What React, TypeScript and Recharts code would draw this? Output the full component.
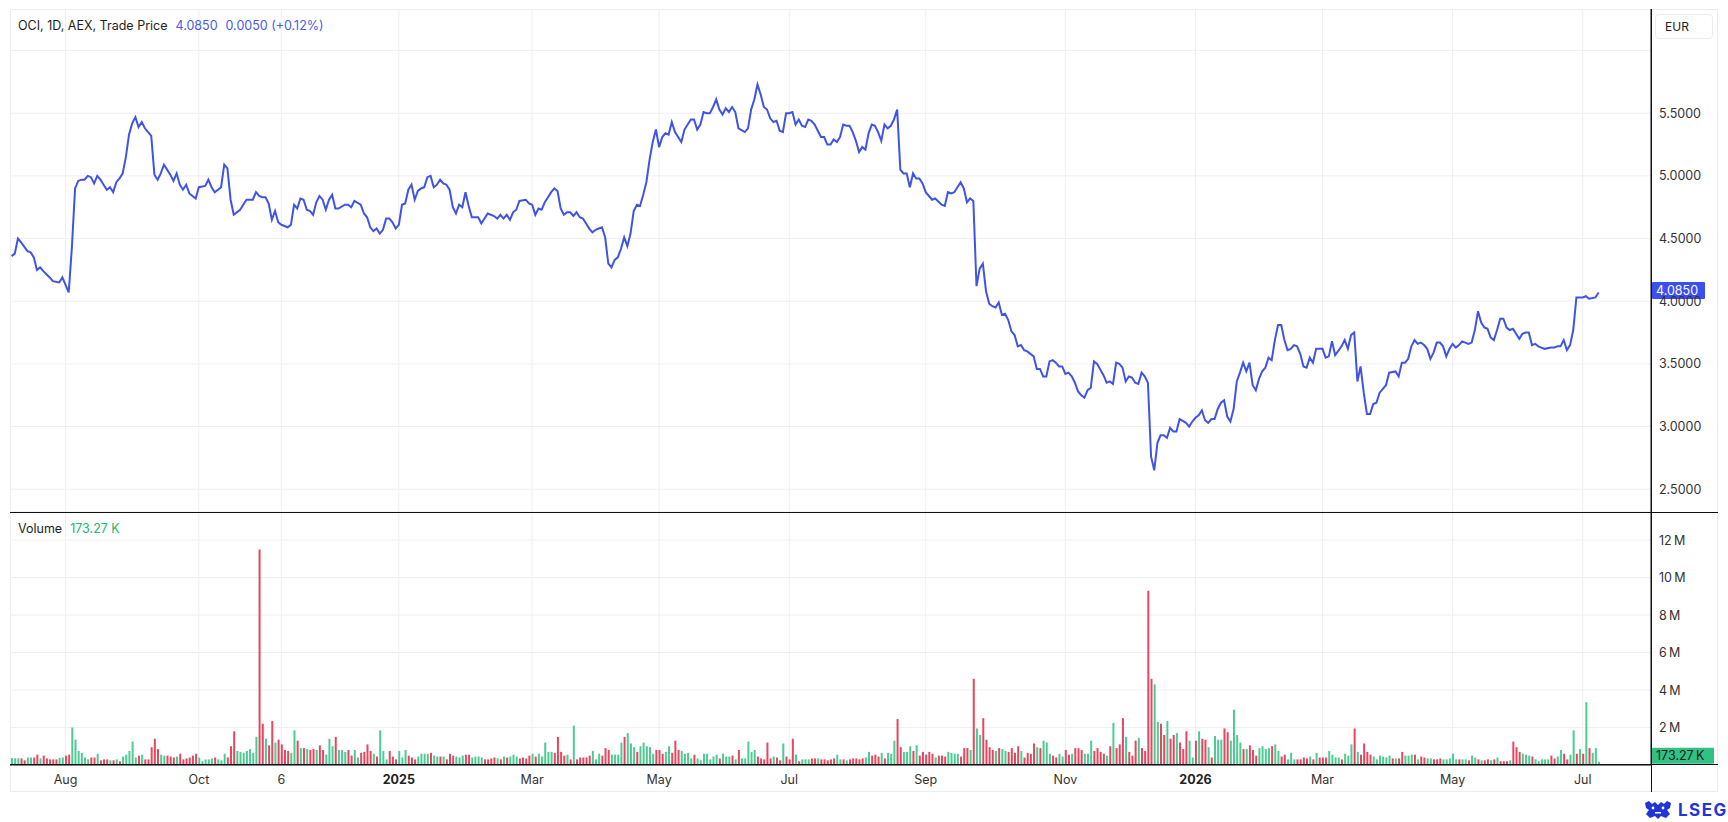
import React from 'react';
import { LineChart, Line, XAxis, YAxis, CartesianGrid, BarChart, Bar, Cell, ReferenceLine } from 'recharts';

// ---------- DATA ----------
// x = trading-day index (0 = first session shown)
const tickDays = [17, 59, 85, 122, 164, 204, 245, 288, 332, 373, 413, 454, 495];
const tickLabels = ['Aug', 'Oct', '6', '2025', 'Mar', 'May', 'Jul', 'Sep', 'Nov', '2026', 'Mar', 'May', 'Jul'];
const boldLabels = ['2025', '2026'];

const priceTicks = [2.5, 3, 3.5, 4, 4.5, 5, 5.5, 6];
const volumeTicks = [2, 4, 6, 8, 10, 12];

const priceDays = [
  0, 1, 2, 3, 5, 6, 7, 8, 9, 10, 12, 13, 15, 16, 17, 18, 19, 20, 21, 22, 23, 24, 25, 26, 27, 28, 29, 30,
  31, 32, 33, 34, 35, 36, 37, 38, 39, 40, 41, 42, 43, 44, 45, 46, 47, 48, 49, 50, 51, 52, 53, 54, 55, 56,
  57, 58, 59, 61, 62, 63, 64, 66, 67, 68, 69, 70, 72, 73, 74, 76, 77, 78, 79, 80, 81, 82, 83, 84, 85, 87,
  88, 89, 90, 91, 92, 93, 94, 95, 96, 97, 98, 99, 100, 101, 102, 103, 105, 106, 107, 108, 110, 111, 112,
  113, 114, 115, 116, 117, 118, 119, 120, 121, 122, 123, 124, 125, 126, 127, 128, 129, 130, 131, 132, 133,
  134, 135, 136, 137, 138, 139, 140, 141, 142, 143, 144, 145, 147, 148, 150, 152, 153, 154, 155, 156, 157,
  158, 159, 160, 162, 163, 164, 165, 166, 167, 168, 169, 170, 171, 172, 173, 174, 175, 176, 177, 178, 179,
  180, 181, 182, 183, 184, 185, 186, 187, 188, 189, 190, 191, 192, 193, 194, 195, 196, 197, 198, 199, 200,
  201, 202, 203, 204, 205, 206, 207, 208, 209, 211, 212, 213, 214, 215, 216, 217, 218, 219, 220, 221, 222,
  223, 224, 225, 226, 227, 228, 229, 231, 232, 233, 234, 235, 236, 237, 238, 239, 240, 241, 242, 243, 244,
  245, 246, 247, 248, 249, 250, 251, 252, 253, 254, 255, 256, 257, 258, 259, 260, 261, 262, 263, 264, 265,
  266, 267, 268, 269, 270, 271, 272, 273, 274, 275, 276, 277, 278, 279, 280, 281, 282, 283, 284, 285, 286,
  287, 288, 290, 291, 293, 294, 295, 296, 297, 298, 299, 300, 301, 302, 303, 304, 305, 306, 307, 308, 309,
  310, 311, 312, 313, 314, 315, 316, 317, 318, 319, 320, 322, 323, 324, 325, 326, 327, 328, 329, 330, 331,
  332, 333, 334, 335, 336, 337, 338, 339, 340, 341, 342, 344, 345, 346, 347, 348, 349, 350, 351, 352, 353,
  354, 355, 356, 357, 358, 359, 360, 361, 362, 363, 364, 365, 366, 367, 368, 370, 371, 372, 373, 374, 375,
  376, 377, 378, 379, 380, 381, 382, 383, 384, 385, 386, 387, 388, 389, 390, 391, 392, 393, 394, 395, 396,
  397, 398, 399, 400, 401, 402, 403, 404, 405, 406, 407, 408, 409, 410, 411, 412, 413, 414, 415, 416, 417,
  419, 420, 421, 422, 423, 424, 425, 426, 427, 428, 429, 430, 431, 433, 434, 436, 437, 438, 439, 440, 441,
  442, 443, 444, 445, 446, 447, 448, 449, 450, 451, 452, 453, 454, 455, 456, 457, 459, 460, 461, 462, 463,
  464, 465, 466, 467, 468, 469, 470, 471, 472, 473, 474, 475, 476, 477, 478, 479, 480, 481, 483, 485, 486,
  487, 488, 489, 490, 491, 492, 493, 494, 495, 496, 497, 499, 500,
];

const priceValues = [
  4.36, 4.38, 4.5, 4.47, 4.4, 4.39, 4.35, 4.25, 4.27, 4.24, 4.19, 4.16, 4.15, 4.19, 4.13, 4.07, 4.43, 4.9,
  4.96, 4.97, 4.97, 5.0, 4.99, 4.94, 5.0, 4.97, 4.93, 4.89, 4.91, 4.87, 4.95, 4.98, 5.02, 5.15, 5.33, 5.42,
  5.47, 5.39, 5.43, 5.38, 5.35, 5.32, 5.01, 4.97, 5.02, 5.09, 5.05, 5.01, 4.96, 5.02, 4.93, 4.89, 4.93, 4.86,
  4.84, 4.82, 4.91, 4.92, 4.97, 4.91, 4.87, 4.91, 5.09, 5.06, 4.81, 4.69, 4.73, 4.77, 4.81, 4.81, 4.87, 4.84,
  4.83, 4.83, 4.78, 4.65, 4.72, 4.63, 4.61, 4.59, 4.61, 4.77, 4.74, 4.82, 4.81, 4.73, 4.72, 4.69, 4.79, 4.84,
  4.81, 4.73, 4.81, 4.85, 4.74, 4.74, 4.77, 4.77, 4.75, 4.8, 4.77, 4.7, 4.67, 4.59, 4.56, 4.58, 4.54, 4.57,
  4.66, 4.66, 4.63, 4.58, 4.61, 4.77, 4.78, 4.89, 4.93, 4.81, 4.88, 4.9, 4.91, 4.99, 5.0, 4.91, 4.93, 4.97,
  4.94, 4.93, 4.89, 4.75, 4.7, 4.77, 4.75, 4.87, 4.76, 4.67, 4.67, 4.62, 4.7, 4.68, 4.66, 4.69, 4.66, 4.69,
  4.65, 4.71, 4.73, 4.8, 4.81, 4.78, 4.77, 4.69, 4.74, 4.73, 4.79, 4.83, 4.87, 4.9, 4.88, 4.74, 4.69, 4.71,
  4.71, 4.68, 4.71, 4.67, 4.66, 4.62, 4.58, 4.55, 4.57, 4.58, 4.59, 4.51, 4.3, 4.27, 4.33, 4.35, 4.42, 4.51,
  4.44, 4.54, 4.72, 4.77, 4.76, 4.85, 4.95, 5.13, 5.27, 5.37, 5.23, 5.31, 5.34, 5.33, 5.43, 5.35, 5.27, 5.37,
  5.41, 5.45, 5.45, 5.37, 5.41, 5.51, 5.5, 5.5, 5.55, 5.61, 5.53, 5.49, 5.54, 5.51, 5.55, 5.51, 5.38, 5.35,
  5.38, 5.53, 5.61, 5.73, 5.65, 5.55, 5.53, 5.46, 5.43, 5.44, 5.36, 5.35, 5.5, 5.5, 5.51, 5.41, 5.45, 5.4,
  5.39, 5.45, 5.44, 5.41, 5.36, 5.31, 5.31, 5.25, 5.25, 5.29, 5.27, 5.31, 5.41, 5.4, 5.4, 5.35, 5.28, 5.19,
  5.23, 5.21, 5.34, 5.41, 5.4, 5.35, 5.28, 5.41, 5.38, 5.4, 5.45, 5.53, 5.05, 5.02, 5.02, 4.91, 5.02, 4.98,
  4.98, 4.94, 4.87, 4.81, 4.82, 4.77, 4.76, 4.87, 4.86, 4.87, 4.91, 4.95, 4.9, 4.79, 4.82, 4.8, 4.12, 4.26,
  4.3, 4.08, 3.98, 3.96, 3.95, 3.99, 3.89, 3.9, 3.85, 3.76, 3.73, 3.64, 3.65, 3.61, 3.6, 3.56, 3.46, 3.46,
  3.4, 3.4, 3.52, 3.53, 3.51, 3.48, 3.48, 3.42, 3.43, 3.4, 3.35, 3.28, 3.25, 3.23, 3.29, 3.31, 3.52, 3.5,
  3.41, 3.35, 3.36, 3.34, 3.51, 3.5, 3.47, 3.36, 3.4, 3.39, 3.35, 3.34, 3.43, 3.4, 3.35, 2.76, 2.65, 2.87,
  2.93, 2.93, 2.91, 2.99, 2.96, 2.96, 3.06, 3.03, 3.0, 3.04, 3.07, 3.09, 3.13, 3.05, 3.03, 3.06, 3.06, 3.14,
  3.19, 3.21, 3.08, 3.04, 3.14, 3.36, 3.43, 3.51, 3.44, 3.51, 3.33, 3.29, 3.38, 3.44, 3.47, 3.55, 3.53, 3.69,
  3.81, 3.81, 3.69, 3.61, 3.62, 3.65, 3.64, 3.58, 3.48, 3.47, 3.55, 3.51, 3.62, 3.62, 3.62, 3.55, 3.56, 3.68,
  3.57, 3.64, 3.69, 3.62, 3.73, 3.75, 3.36, 3.48, 3.27, 3.1, 3.1, 3.18, 3.19, 3.27, 3.33, 3.43, 3.44, 3.4,
  3.51, 3.51, 3.54, 3.64, 3.69, 3.66, 3.67, 3.65, 3.62, 3.54, 3.59, 3.67, 3.67, 3.64, 3.56, 3.62, 3.66, 3.63,
  3.65, 3.68, 3.66, 3.67, 3.77, 3.92, 3.83, 3.79, 3.78, 3.71, 3.69, 3.77, 3.86, 3.86, 3.79, 3.77, 3.78, 3.74,
  3.7, 3.74, 3.75, 3.75, 3.65, 3.66, 3.64, 3.62, 3.63, 3.63, 3.64, 3.64, 3.69, 3.61, 3.65, 3.77, 4.03, 4.03,
  4.03, 4.04, 4.02, 4.03, 4.07, 4.085,
];

// volume in millions, one bar per trading day (0..500)
const volumeValues = [
  0.38, 0.36, 0.36, 0.35, 0.25, 0.4, 0.4, 0.4, 0.55, 0.35,
  0.5, 0.35, 0.3, 0.3, 0.3, 0.38, 0.4, 0.5, 0.55, 2.0,
  1.35, 0.75, 0.65, 0.4, 0.3, 0.4, 0.4, 0.6, 0.25, 0.3,
  0.3, 0.25, 0.25, 0.3, 0.2, 0.45, 0.55, 0.75, 1.25, 0.4,
  0.5, 0.55, 0.3, 0.3, 0.95, 1.4, 0.85, 0.55, 0.5, 0.5,
  0.45, 0.4, 0.45, 0.6, 0.3, 0.35, 0.4, 0.5, 0.6, 0.4,
  0.2, 0.3, 0.3, 0.35, 0.4, 0.3, 0.25, 0.6, 0.4, 1.0,
  1.8, 0.75, 0.7, 0.65, 0.75, 0.85, 0.65, 1.5, 11.5, 2.2,
  1.4, 1.05, 2.35, 1.2, 1.35, 1.1, 0.8, 0.75, 0.65, 1.85,
  1.3, 0.9, 0.9, 0.85, 0.8, 0.85, 0.8, 1.05, 0.8, 0.55,
  1.4, 1.0, 1.5, 0.8, 0.8, 0.7, 0.8, 0.5, 0.8, 0.4,
  0.65, 0.7, 1.1, 0.75, 0.6, 0.45, 1.85, 0.75, 0.3, 0.75,
  0.45, 0.3, 0.75, 0.4, 0.8, 0.5, 0.4, 0.3, 0.45,
  0.6, 0.6, 0.6, 0.65, 0.5, 0.45, 0.45, 0.45, 0.3, 0.6,
  0.5, 0.45, 0.4, 0.5, 0.55, 0.55, 0.4, 0.45, 0.45, 0.4,
  0.3, 0.3, 0.35, 0.4, 0.35, 0.3, 0.45, 0.4, 0.45, 0.55,
  0.45, 0.35, 0.4, 0.35, 0.5, 0.6, 0.45, 0.6, 0.45, 1.2,
  0.7, 0.7, 0.65, 1.5, 0.7, 0.5, 0.55, 0.3, 2.1, 0.3,
  0.4, 0.4, 0.4, 0.5, 0.75, 0.3, 0.6, 0.5, 0.9, 0.8,
  0.55, 0.55, 0.55, 1.2, 1.5, 1.7, 1.15, 0.95, 0.7, 1.0,
  1.2, 1.0, 0.95, 0.6, 0.8, 0.8, 0.6, 0.7, 1.0, 0.65,
  1.3, 0.8, 0.75, 0.6, 0.65, 0.35, 0.55, 0.35, 0.25, 0.6,
  0.6, 0.3, 0.45, 0.55, 0.35, 0.6, 0.45, 0.45, 0.5, 0.3,
  0.8, 0.35, 0.35, 1.25, 0.7, 0.8, 0.45, 0.35, 0.3, 1.2,
  0.35, 0.45, 0.4, 0.25, 1.15, 0.45, 0.3, 1.4, 0.55, 0.2,
  0.3, 0.3, 0.3, 0.35, 0.35, 0.35, 0.3, 0.3, 0.25, 0.3,
  0.35, 0.55,
  0.3, 0.3, 0.25, 0.3, 0.35, 0.35, 0.3, 0.35, 0.4, 0.7,
  0.5, 0.55, 0.45, 0.65, 0.35, 0.65, 0.6, 1.3, 2.45, 0.95,
  0.7, 0.7, 1.0, 0.75, 1.05, 0.5, 0.7, 0.55, 0.7, 0.6,
  0.4, 0.5, 0.5, 0.45, 0.7, 0.65, 0.6, 0.6, 0.45, 0.9,
  0.9, 0.8, 4.6, 1.95, 1.6, 2.5, 1.35, 0.95, 0.8, 0.75,
  0.9, 0.85, 0.75, 0.7, 0.9, 0.65, 1.0, 0.75, 0.4, 0.65,
  0.6, 1.15, 0.95, 0.9, 1.3, 1.2, 0.6, 0.5, 0.4, 0.6,
  0.45, 0.8, 0.55, 0.6, 0.9, 0.9, 0.8, 0.6, 0.6, 1.3,
  0.75, 0.9, 0.7, 0.6, 0.5, 1.0, 2.25, 0.9, 1.1, 2.5,
  1.5, 0.7, 0.5, 1.3, 1.45, 0.9, 0.75, 9.3, 4.6, 4.3,
  2.3, 2.2, 1.6, 2.35, 1.4, 1.6, 1.7, 1.2, 0.85, 1.8,
  1.3, 0.4, 1.3, 1.8, 1.4, 1.35, 0.95, 0.4, 1.55, 1.35,
  1.35, 1.95, 1.75, 1.3, 2.95, 1.6, 1.2, 0.85, 0.85, 1.05,
  0.8, 0.5, 0.9,
  1.0, 0.85, 0.9, 1.0, 1.1, 0.75, 0.45, 0.55, 0.3, 0.65,
  0.3, 0.3, 0.3, 0.4, 0.35, 0.45, 0.3, 0.65, 0.4, 0.4,
  0.4, 0.75, 0.55, 0.4, 0.4, 0.3, 0.6, 0.5, 1.1, 1.95,
  0.7, 0.55, 1.15, 0.7, 0.55, 0.45, 0.3, 0.5, 0.45, 0.4,
  0.5, 0.35, 0.35, 0.35, 0.7, 0.5, 0.5, 0.55, 0.55, 0.3,
  0.45, 0.4, 0.35, 0.35, 0.3, 0.3, 0.35, 0.3, 0.3, 0.35,
  0.6, 0.3, 0.3, 0.3, 0.3, 0.25, 0.5, 0.4, 0.3, 0.25,
  0.25, 0.3, 0.25, 0.3, 0.4, 0.2, 0.2, 0.2, 0.25, 1.25,
  0.95, 0.7, 0.6, 0.55, 0.5, 0.45, 0.3, 0.2, 0.3, 0.3,
  0.3, 0.5, 0.35, 0.45, 0.8, 0.6, 0.3, 0.55, 1.85, 0.6,
  0.85, 0.6, 3.35, 0.9, 0.65, 0.9, 0.17327,
];

// g = up day, r = down day (one letter per bar)
const volumeColors = [
  'gggrrggrrg', 'rrrrrggrrg', 'gggggrrgrr', 'rgrgrggggg', 'rgrrrrrggr', 'rrgrrrrrrg', 'ggggrgggrr',
  'rgggggggrr', 'grrgrrrrgg', 'rgrgrrgrrg', 'ggrgggrrgg', 'rrrrgrgggr', 'rrgggrrrg',
  'gggrggrgrr', 'rgggrrgggg', 'rrrrgrgrgg', 'grrrrgrggg', 'ggrrrrgrgr', 'rrrrgggrrr', 'ggggrgggrg',
  'ggggrrrggr', 'rrggggrggg', 'ggggrgggrg', 'rgggggrrrr', 'rgrrgrrrgr', 'gggrrgrrrr', 'rg',
  'grgrrrrrgg', 'rrrgrgggrr', 'gggrgrrrrr', 'grrrggggrr', 'rgrggrrrrg', 'rggrrrrgrr', 'rrgrgggrrg',
  'grrgrrrggg', 'rrrrgrgrrr', 'grrrgrrrrg', 'grrgrrgrrr', 'ggrgrrgrgg', 'grrggggrgr', 'rrg',
  'gggrggrrgg', 'grrrrgrgrr', 'rggggrgggr', 'grrrrggggg', 'grgrrgggrg', 'rrggrrrggg', 'ggrggrggrg',
  'rrgrgrrrgr', 'rrgggrgggg', 'grrggrrggr', 'grgrggg',
].join('');

// ---------- STYLE ----------
const FONT = 'Inter, "Noto Sans", "DejaVu Sans", sans-serif';
const GRID = '#efefef';
const LINE_BLUE = '#3f54e6';
const UP = '#4ccb93';
const DOWN = '#e5475f';

const PLOT_W = 1641; // plot width (left border to axis line)
const AXIS_W = 67;
const PRICE_H = 503;
const VOL_H = 280;
const XAXIS_H = 27;

const priceData = priceDays.map((d, i) => ({ d, p: priceValues[i] }));
const volumeData = volumeValues.map((v, i) => ({ d: i, v }));
const lastPrice = priceValues[priceValues.length - 1];
const lastVolume = volumeValues[volumeValues.length - 1];

const PriceTick = (props: any) => {
  const { x, y, payload } = props;
  if (payload.value === 6) return <g />;
  return (
    <text x={x + 8} y={y} dy={4.5} textAnchor="start" fill="#333" fontSize={12.5} fontFamily={FONT}>
      {payload.value.toFixed(4)}
    </text>
  );
};

const VolumeTick = (props: any) => {
  const { x, y, payload } = props;
  return (
    <text x={x + 8} y={y} dy={4.5} textAnchor="start" fill="#333" fontSize={12.5} fontFamily={FONT}>
      {`${payload.value}\u2009M`}
    </text>
  );
};

const DateTick = (props: any) => {
  const { x, y, payload } = props;
  const idx = tickDays.indexOf(payload.value);
  const label = tickLabels[idx] ?? '';
  const bold = boldLabels.includes(label);
  return (
    <text x={x} y={y} dy={18.5} textAnchor="middle" fill={bold ? '#222' : '#333'} fontSize={12.5}
      fontWeight={bold ? 700 : 400} fontFamily={FONT}>
      {label}
    </text>
  );
};

const PriceTag = (props: any) => {
  const vb = props.viewBox || {};
  const x = (vb.x ?? 0) + (vb.width ?? 0) + 1;
  const y = vb.y ?? 0;
  return (
    <g>
      <rect x={x} y={y - 8.5} width={53} height={17} fill="#3a4ef4" rx={1} />
      <text x={x + 4} y={y} dy={4.5} fill="#fff" fontSize={12.5} fontFamily={FONT}>
        {lastPrice.toFixed(4)}
      </text>
    </g>
  );
};

const VolumeTag = (props: any) => {
  const vb = props.viewBox || {};
  const x = (vb.x ?? 0) + (vb.width ?? 0) + 1;
  const y = vb.y ?? 0;
  return (
    <g>
      <rect x={x} y={y - 14} width={62} height={16} fill="#30c185" rx={1} />
      <text x={x + 4} y={y - 6} dy={4.5} fill="#1a1a1a" fontSize={12.5} fontFamily={FONT}>
        {`${(lastVolume * 1000).toFixed(2)}\u2009K`}
      </text>
    </g>
  );
};

const line = (style: React.CSSProperties) => <div style={{ position: 'absolute', ...style }} />;

export default function App() {
  return (
    <div style={{ position: 'absolute', left: 0, top: 0, width: 1728, height: 822, background: '#fff', fontFamily: FONT, overflow: 'hidden' }}>
      {/* outer light frame */}
      {line({ left: 10, top: 9, width: 1708, height: 783, border: '1px solid #ececec', boxSizing: 'border-box' })}

      {/* price pane */}
      <div style={{ position: 'absolute', left: 10, top: 9 }}>
        <LineChart width={PLOT_W + AXIS_W} height={PRICE_H} data={priceData} margin={{ top: 0, right: 0, bottom: 0, left: 0 }}>
          <CartesianGrid stroke={GRID} strokeWidth={1} />
          <XAxis dataKey="d" type="number" domain={[-0.5, 516.5]} ticks={tickDays} allowDataOverflow hide />
          <YAxis orientation="right" type="number" width={AXIS_W} domain={[2.318, 6.332]} allowDataOverflow
            ticks={priceTicks} tick={<PriceTick />} tickLine={false} tickSize={0} tickMargin={0}
            axisLine={{ stroke: '#111', strokeWidth: 1 }} interval={0} />
          <Line type="linear" dataKey="p" stroke={LINE_BLUE} strokeWidth={2} dot={false} isAnimationActive={false} />
          <ReferenceLine y={lastPrice} stroke="none" label={<PriceTag />} />
        </LineChart>
      </div>

      {/* volume pane */}
      <div style={{ position: 'absolute', left: 10, top: 512 }}>
        <BarChart width={PLOT_W + AXIS_W} height={VOL_H} data={volumeData} margin={{ top: 0, right: 0, bottom: 0, left: 0 }} barSize={2}>
          <CartesianGrid stroke={GRID} strokeWidth={1} />
          <XAxis dataKey="d" type="number" domain={[-0.5, 516.5]} ticks={tickDays} allowDataOverflow interval={0}
            height={XAXIS_H} tick={<DateTick />} tickLine={false} tickSize={0} tickMargin={0}
            axisLine={{ stroke: '#111', strokeWidth: 1 }} />
          <YAxis orientation="right" type="number" width={AXIS_W} domain={[0, 13.5]} allowDataOverflow
            ticks={volumeTicks} tick={<VolumeTick />} tickLine={false} tickSize={0} tickMargin={0}
            axisLine={{ stroke: '#111', strokeWidth: 1 }} interval={0} />
          <Bar dataKey="v" isAnimationActive={false}>
            {volumeData.map((e, i) => (
              <Cell key={i} fill={volumeColors[i] === 'r' ? DOWN : UP} />
            ))}
          </Bar>
          <ReferenceLine y={lastVolume} stroke="none" label={<VolumeTag />} />
        </BarChart>
      </div>

      {/* pane separators and axis extensions */}
      {line({ left: 10, top: 511.5, width: 1708, height: 1, background: '#111' })}
      {line({ left: 10, top: 764, width: 1708, height: 1, background: '#111' })}
      {line({ left: 1650.5, top: 9, width: 1, height: 783, background: '#111' })}

      {/* price legend */}
      <div style={{ position: 'absolute', left: 18, top: 18, fontSize: 12.5, lineHeight: '16px', whiteSpace: 'nowrap', color: '#1e1e1e' }}>
        OCI, 1D, AEX, Trade Price
        <span style={{ color: '#4a5be8', marginLeft: 8 }}>{lastPrice.toFixed(4)}</span>
        <span style={{ color: '#4a5be8', marginLeft: 8 }}>0.0050 (+0.12%)</span>
      </div>

      {/* volume legend */}
      <div style={{ position: 'absolute', left: 18, top: 521, fontSize: 12.5, lineHeight: '16px', whiteSpace: 'nowrap', color: '#1e1e1e' }}>
        Volume
        <span style={{ color: '#27b374', marginLeft: 8 }}>{`${(lastVolume * 1000).toFixed(2)} K`}</span>
      </div>

      {/* currency box */}
      <div style={{ position: 'absolute', left: 1655, top: 14, width: 58, height: 25, border: '1px solid #ececec', borderRadius: 4, boxSizing: 'border-box', fontSize: 12, lineHeight: '23px', paddingLeft: 9, color: '#222', background: '#fff' }}>
        EUR
      </div>

      {/* LSEG logo */}
      <div style={{ position: 'absolute', left: 1643, top: 800, display: 'flex', alignItems: 'center', gap: 5 }}>
        <svg width={30} height={20} viewBox="0 0 30 20">
          <g fill="#1f35d6">
            <path d="M2 3 L6 1 L9 4 L12 2 L15 5 L18 2 L21 4 L24 1 L28 3 L27 8 L24 10 L27 14 L23 18 L18 16 L15 19 L12 16 L7 18 L3 14 L6 10 L3 8 Z" />
          </g>
          <g fill="#fff">
            <circle cx={10} cy={8} r={1.4} />
            <circle cx={20} cy={8} r={1.4} />
            <rect x={12} y={12} width={6} height={1.5} />
          </g>
        </svg>
        <span style={{ color: '#1f35d6', fontWeight: 700, fontSize: 17, letterSpacing: 1.5, lineHeight: '20px' }}>LSEG</span>
      </div>
    </div>
  );
}
